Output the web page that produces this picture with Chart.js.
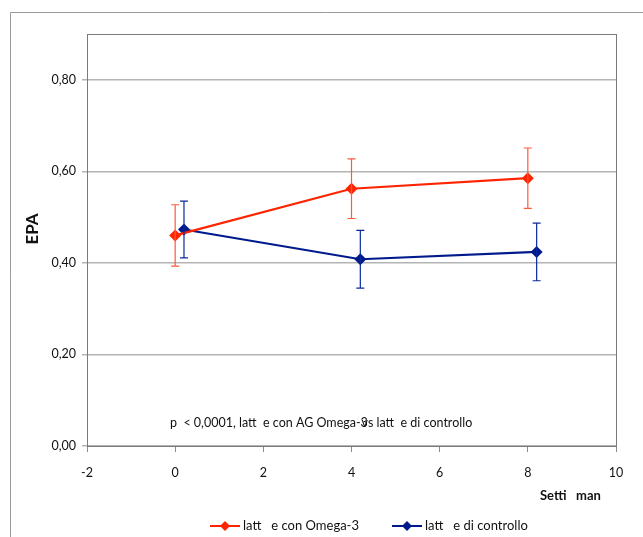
<!DOCTYPE html>
<html>
<head>
<meta charset="utf-8">
<script src="https://cdn.jsdelivr.net/npm/chart.js@4"></script>
<style>
  html, body { margin: 0; padding: 0; background: #fff; }
  #wrap { width: 643px; height: 537px; position: relative; }
</style>
</head>
<body>
<div id="wrap"><canvas id="myChart"></canvas></div>
<script>
// Data
const weeksOmega = [0, 4, 8];
const epaOmega = [0.46, 0.562, 0.585];
const errOmega = [0.067, 0.065, 0.066];

const weeksCtrl = [0.2, 4.2, 8.2];
const epaCtrl = [0.473, 0.408, 0.424];
const errCtrl = [0.062, 0.063, 0.063];

const seriesNames = ['latt   e con Omega-3', 'latt   e di controllo'];
const seriesColors = ['#ff2400', '#001a8c'];
const errColors = ['#ff5a3a', '#0a2a9a'];
const noteText = ['p  < 0,0001, latt  e con AG Omega-', '3', 'vs latt  e di controllo'];

const FONT = 'Lato, "Open Sans", sans-serif';

const ctx = document.getElementById('myChart').getContext('2d');

// frame, plot border, error bars, note, titles and legend
const extras = {
    id: 'extras',
    beforeDraw(chart) {
        const c = chart.ctx;
        c.save();
        c.fillStyle = '#fff';
        c.fillRect(0, 0, chart.width, chart.height);
        c.strokeStyle = '#9a9a9a';
        c.lineWidth = 1;
        c.beginPath();
        c.moveTo(10.5, chart.height);
        c.lineTo(10.5, 12.5);
        c.lineTo(chart.width, 12.5);
        c.stroke();
        c.restore();
    },
    afterDatasetsDraw(chart) {
        const c = chart.ctx;
        const xs = chart.scales.x, ys = chart.scales.y;
        const a = chart.chartArea;
        c.save();
        // plot border
        c.strokeStyle = '#7a7a7a';
        c.lineWidth = 1;
        c.strokeRect(Math.round(a.left) + 0.5, Math.round(a.top) + 0.5, Math.round(a.right - a.left), Math.round(a.bottom - a.top));

        // error bars
        const groups = [[weeksOmega, epaOmega, errOmega], [weeksCtrl, epaCtrl, errCtrl]];
        groups.forEach((g, k) => {
            c.strokeStyle = errColors[k];
            c.lineWidth = 1.2;
            g[0].forEach((w, i) => {
                const px = xs.getPixelForValue(w);
                const top = ys.getPixelForValue(g[1][i] + g[2][i]);
                const bot = ys.getPixelForValue(g[1][i] - g[2][i]);
                c.beginPath();
                c.moveTo(px, top); c.lineTo(px, bot);
                c.moveTo(px - 4, top); c.lineTo(px + 4, top);
                c.moveTo(px - 4, bot); c.lineTo(px + 4, bot);
                c.stroke();
            });
        });
        c.restore();
    },
    afterDraw(chart) {
        const c = chart.ctx;
        c.save();
        c.fillStyle = '#111';
        c.textBaseline = 'middle';
        c.textAlign = 'left';

        // note inside the plot ("vs" is drawn over the "3", as in the source)
        c.font = '12.5px ' + FONT;
        const w0 = c.measureText(noteText[0]).width;
        c.fillText(noteText[0], 170, 423);
        c.fillText(noteText[1], 170 + w0, 423);
        c.fillText(noteText[2], 170 + w0 + 1, 423);

        // x axis title
        c.font = 'bold 13px ' + FONT;
        c.fillText('Setti   man', 540, 496);

        // y axis title
        c.save();
        c.translate(33, 229);
        c.rotate(-Math.PI / 2);
        c.textAlign = 'center';
        c.font = 'bold 17px ' + FONT;
        c.fillText('EPA', 0, 0);
        c.restore();

        // legend
        const items = [[210, 0], [392, 1]];
        c.font = '13px ' + FONT;
        items.forEach(([lx, k]) => {
            const ly = 526;
            c.strokeStyle = seriesColors[k];
            c.lineWidth = 2;
            c.beginPath();
            c.moveTo(lx, ly); c.lineTo(lx + 30, ly);
            c.stroke();
            c.fillStyle = seriesColors[k];
            c.beginPath();
            c.moveTo(lx + 15, ly - 5); c.lineTo(lx + 20, ly);
            c.lineTo(lx + 15, ly + 5); c.lineTo(lx + 10, ly);
            c.closePath(); c.fill();
            c.fillStyle = '#111';
            c.fillText(seriesNames[k], lx + 33, ly);
        });
        c.restore();
    }
};

const chart = new Chart(ctx, {
    type: 'scatter',
    data: {
        datasets: [
            {
                label: seriesNames[0],
                data: weeksOmega.map((w, i) => ({ x: w, y: epaOmega[i] })),
                showLine: true,
                borderColor: seriesColors[0],
                backgroundColor: seriesColors[0],
                borderWidth: 2.2,
                pointStyle: 'rectRot',
                pointRadius: 6,
                pointBorderWidth: 0
            },
            {
                label: seriesNames[1],
                data: weeksCtrl.map((w, i) => ({ x: w, y: epaCtrl[i] })),
                showLine: true,
                borderColor: seriesColors[1],
                backgroundColor: seriesColors[1],
                borderWidth: 2.2,
                pointStyle: 'rectRot',
                pointRadius: 6,
                pointBorderWidth: 0
            }
        ]
    },
    options: {
        responsive: true,
        maintainAspectRatio: false,
        animation: false,
        layout: { padding: { left: 0, top: 34, right: 27, bottom: 41 } },
        scales: {
            x: {
                min: -2, max: 10,
                ticks: { stepSize: 2, color: '#111', font: { family: FONT, size: 12.5 }, padding: 13 },
                grid: { drawOnChartArea: false, color: '#8a8a8a', tickLength: 6 },
                border: { color: '#7a7a7a' },
                afterFit(s) { s.height = 50; }
            },
            y: {
                min: 0, max: 0.9,
                ticks: {
                    stepSize: 0.2, color: '#111', font: { family: FONT, size: 12.5 }, padding: 6,
                    callback: v => (v > 0.85 ? '' : v.toFixed(2).replace('.', ','))
                },
                grid: { color: ctx => (ctx.tick && ctx.tick.value > 0.85 ? 'rgba(0,0,0,0)' : '#b4b4b4'), lineWidth: 1.5, tickLength: 5 },
                border: { color: '#7a7a7a' },
                afterFit(s) { s.width = 87; }
            }
        },
        plugins: {
            legend: { display: false },
            tooltip: { enabled: false }
        }
    },
    plugins: [extras]
});
</script>
</body>
</html>
